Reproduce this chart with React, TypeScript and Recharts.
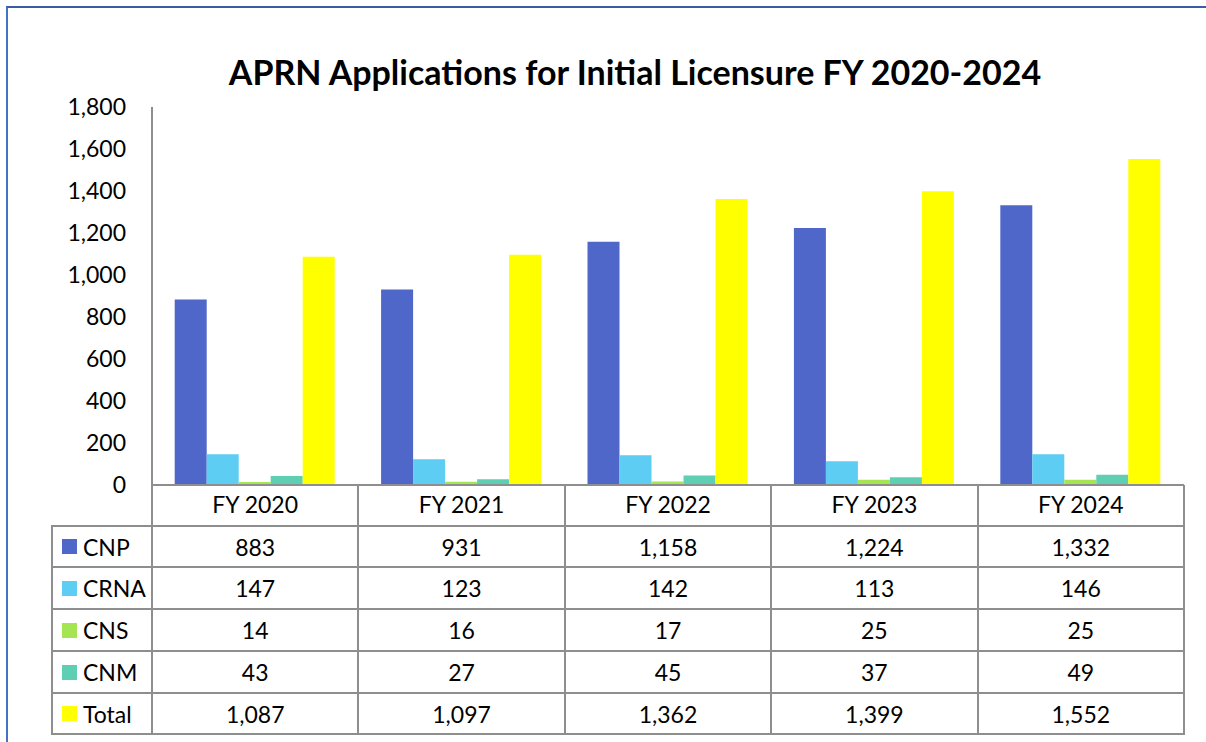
import React from "react";
import { BarChart, Bar, XAxis, YAxis } from "recharts";

const categories = ["FY 2020", "FY 2021", "FY 2022", "FY 2023", "FY 2024"];
const cnp = [883, 931, 1158, 1224, 1332];
const crna = [147, 123, 142, 113, 146];
const cns = [14, 16, 17, 25, 25];
const cnm = [43, 27, 45, 37, 49];
const total = [1087, 1097, 1362, 1399, 1552];
const yTicks = [0, 200, 400, 600, 800, 1000, 1200, 1400, 1600, 1800];

const seriesList = [
  { key: "CNP", values: cnp, color: "#4F67C9" },
  { key: "CRNA", values: crna, color: "#5DCDF3" },
  { key: "CNS", values: cns, color: "#A6E552" },
  { key: "CNM", values: cnm, color: "#5ECFB3" },
  { key: "Total", values: total, color: "#FFFF00" },
];

const data = categories.map((c, i) => {
  const row: Record<string, string | number> = { name: c };
  seriesList.forEach((s) => (row[s.key] = s.values[i]));
  return row;
});

const W = 1206;
const H = 742;
const PLOT_L = 152;
const PLOT_R = 1184;
const PLOT_T = 107;
const AXIS_Y = 485;
const HEADER_H = 41;
const ROW_TOPS = [526, 567, 609, 651, 693, 734];
const TABLE_L = 52;
const GRID = "#8E8E8E";
const FONT = "Lato, 'Open Sans', sans-serif";
const FS = 23;

const fmt = (v: number) => v.toLocaleString("en-US");

export default function App() {
  const colW = (PLOT_R - PLOT_L) / categories.length;
  const lines: React.ReactNode[] = [];
  for (let i = 0; i <= categories.length; i++) {
    const x = PLOT_L + i * colW;
    lines.push(
      <div key={"v" + i} style={{ position: "absolute", left: x - 1, top: AXIS_Y, width: 2, height: ROW_TOPS[5] - AXIS_Y + 1, background: GRID }} />
    );
  }
  lines.push(
    <div key="vl" style={{ position: "absolute", left: TABLE_L - 1, top: ROW_TOPS[0], width: 2, height: ROW_TOPS[5] - ROW_TOPS[0] + 1, background: GRID }} />
  );
  ROW_TOPS.forEach((y, i) => {
    lines.push(
      <div key={"h" + i} style={{ position: "absolute", left: TABLE_L - 1, top: y - 1, width: PLOT_R - TABLE_L + 2, height: 2, background: GRID }} />
    );
  });

  const cells: React.ReactNode[] = [];
  seriesList.forEach((s, r) => {
    const top = ROW_TOPS[r];
    const h = ROW_TOPS[r + 1] - top;
    cells.push(
      <div key={"lab" + r} style={{ position: "absolute", left: TABLE_L + 10, top, height: h, display: "flex", alignItems: "center", fontSize: FS }}>
        <span style={{ display: "inline-block", width: 15, height: 15, background: s.color, marginRight: 6 }} />
        <span>{s.key}</span>
      </div>
    );
    s.values.forEach((v, c) => {
      cells.push(
        <div key={"c" + r + "_" + c} style={{ position: "absolute", left: PLOT_L + c * colW, top, width: colW, height: h, display: "flex", alignItems: "center", justifyContent: "center", fontSize: FS }}>
          {fmt(v)}
        </div>
      );
    });
  });

  return (
    <div style={{ position: "absolute", left: 0, top: 0, width: W, height: H, background: "#fff", fontFamily: FONT, color: "#000", overflow: "hidden" }}>
      <div style={{ position: "absolute", left: 6, top: 6, width: W, height: H, borderLeft: "2px solid #4472C4", borderTop: "2px solid #3A5BA8" }} />
      <div style={{ position: "absolute", left: 135, width: 1000, top: 49, textAlign: "center", fontWeight: 700, fontSize: 34, lineHeight: "46px" }}>
        APRN Applications for Initial Licensure FY 2020-2024
      </div>
      <div style={{ position: "absolute", left: 0, top: 0 }}>
        <BarChart
          width={W}
          height={H}
          data={data}
          margin={{ top: PLOT_T, right: W - PLOT_R, left: PLOT_L - 70, bottom: H - AXIS_Y - HEADER_H }}
          barCategoryGap="11%"
          barGap={0}
        >
          <YAxis
            width={70}
            domain={[0, 1800]}
            ticks={yTicks}
            interval={0}
            tickFormatter={fmt}
            axisLine={{ stroke: GRID, strokeWidth: 2 }}
            tickLine={false}
            tickSize={0}
            tickMargin={26}
            tick={{ fill: "#000", fontSize: FS, fontFamily: FONT }}
          />
          <XAxis
            dataKey="name"
            height={HEADER_H}
            axisLine={{ stroke: GRID, strokeWidth: 2 }}
            tickLine={false}
            tickSize={0}
            tickMargin={12}
            interval={0}
            tick={{ fill: "#000", fontSize: FS, fontFamily: FONT }}
          />
          {seriesList.map((s) => (
            <Bar key={s.key} dataKey={s.key} fill={s.color} isAnimationActive={false} />
          ))}
        </BarChart>
      </div>
      {lines}
      {cells}
    </div>
  );
}
